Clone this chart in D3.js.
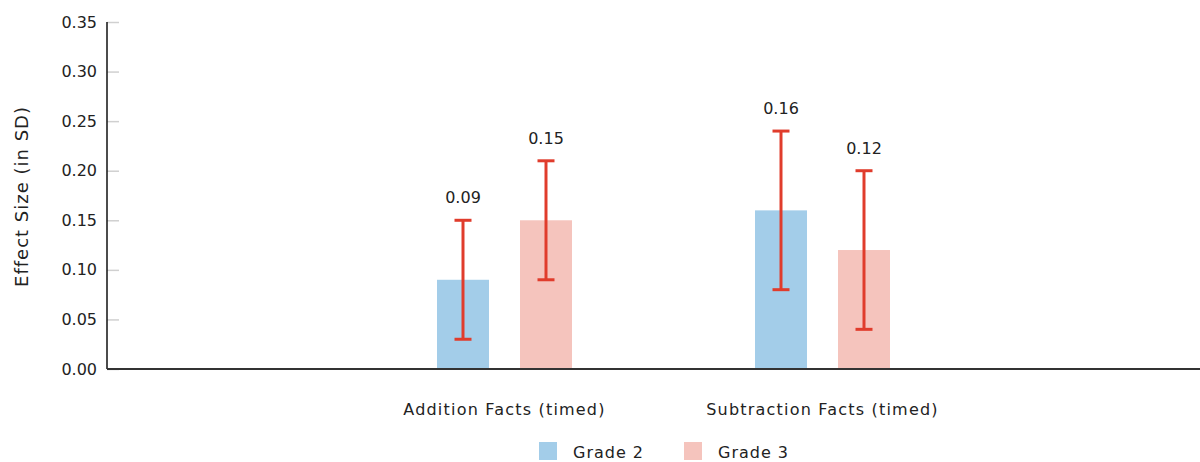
<!DOCTYPE html>
<html>
<head>
<meta charset="utf-8">
<script src="https://cdn.jsdelivr.net/npm/d3@7"></script>
<style>
  body { margin: 0; background: #fff; }
  svg { display: block; font-family: 'DejaVu Sans', sans-serif; }
</style>
</head>
<body>
<svg id="chart" width="1200" height="462"></svg>
<script>
const categories = ["Addition Facts (timed)", "Subtraction Facts (timed)"];
const series = ["Grade 2", "Grade 3"];
const grade2Values = [0.09, 0.16];
const grade3Values = [0.15, 0.12];
const grade2Low = [0.03, 0.08];
const grade2High = [0.15, 0.24];
const grade3Low = [0.09, 0.04];
const grade3High = [0.21, 0.20];
const yTicks = [0, 0.05, 0.10, 0.15, 0.20, 0.25, 0.30, 0.35];
const seriesColors = ["#a3cde9", "#f5c4bd"];

const data = categories.map((c, i) => ({
  category: c,
  values: [
    { series: series[0], value: grade2Values[i], low: grade2Low[i], high: grade2High[i] },
    { series: series[1], value: grade3Values[i], low: grade3Low[i], high: grade3High[i] }
  ]
}));

const svg = d3.select("#chart");
const mLeft = 107, mRight = 1200, mTop = 22, mBottom = 369;

const y = d3.scaleLinear().domain([0, 0.35]).range([mBottom, mTop]);
const x0 = d3.scaleBand().domain(categories).range([345.5, 981.5]).padding(0);
const x1 = d3.scaleBand().domain(series).range([-83, 83]).paddingInner(31 / 83).paddingOuter(31 / 166);
const color = d3.scaleOrdinal().domain(series).range(seriesColors);

// Y axis
const yAxis = d3.axisRight(y).tickValues(yTicks).tickSize(12).tickFormat(d3.format(".2f"));
const yg = svg.append("g").attr("transform", `translate(${mLeft},0)`).call(yAxis);
yg.select(".domain").remove();
yg.selectAll(".tick line").attr("stroke", "#d0d0d0").attr("stroke-width", 1.5);
yg.selectAll(".tick text").attr("x", -10).attr("text-anchor", "end")
  .attr("fill", "#222").style("font-size", "16px").style("font-family", "'DejaVu Sans', sans-serif");
svg.append("line").attr("x1", mLeft).attr("x2", mLeft).attr("y1", mTop).attr("y2", mBottom)
  .attr("stroke", "#111").attr("stroke-width", 1.5);

svg.append("text")
  .attr("transform", `translate(28,${(mTop + mBottom) / 2 + 1}) rotate(-90)`)
  .attr("text-anchor", "middle").attr("fill", "#222").style("font-size", "18px")
  .style("letter-spacing", "1px")
  .text("Effect Size (in SD)");

// Bars
const groups = svg.selectAll("g.group").data(data).join("g")
  .attr("class", "group")
  .attr("transform", d => `translate(${x0(d.category) + x0.bandwidth() / 2},0)`);

groups.selectAll("rect").data(d => d.values).join("rect")
  .attr("x", d => x1(d.series))
  .attr("width", x1.bandwidth())
  .attr("y", d => y(d.value))
  .attr("height", d => y(0) - y(d.value))
  .attr("fill", d => color(d.series));

// Baseline
svg.append("line").attr("x1", mLeft).attr("x2", mRight).attr("y1", y(0)).attr("y2", y(0))
  .attr("stroke", "#333").attr("stroke-width", 2);

// Error bars
const cap = 8.5;
const eb = groups.selectAll("g.err").data(d => d.values).join("g").attr("class", "err")
  .attr("transform", d => `translate(${x1(d.series) + x1.bandwidth() / 2},0)`);
eb.append("line").attr("x1", 0).attr("x2", 0).attr("y1", d => y(d.low)).attr("y2", d => y(d.high))
  .attr("stroke", "#e03c2c").attr("stroke-width", 3);
eb.append("line").attr("x1", -cap).attr("x2", cap).attr("y1", d => y(d.high)).attr("y2", d => y(d.high))
  .attr("stroke", "#e03c2c").attr("stroke-width", 3);
eb.append("line").attr("x1", -cap).attr("x2", cap).attr("y1", d => y(d.low)).attr("y2", d => y(d.low))
  .attr("stroke", "#e03c2c").attr("stroke-width", 3);
eb.append("text").attr("x", 0).attr("y", d => y(d.high) - 17)
  .attr("text-anchor", "middle").attr("fill", "#222").style("font-size", "16px")
  .text(d => d3.format(".2f")(d.value));

// Category labels
svg.selectAll("text.cat").data(categories).join("text").attr("class", "cat")
  .attr("x", d => x0(d) + x0.bandwidth() / 2).attr("y", 415)
  .attr("text-anchor", "middle").attr("fill", "#222").style("font-size", "16px")
  .style("letter-spacing", "1.2px")
  .text(d => d);

// Legend
const legendX = [539, 684];
const lg = svg.selectAll("g.legend").data(series).join("g").attr("class", "legend")
  .attr("transform", (d, i) => `translate(${legendX[i]},442)`);
lg.append("rect").attr("width", 18).attr("height", 18).attr("fill", d => color(d));
lg.append("text").attr("x", 34).attr("y", 16).attr("fill", "#222").style("font-size", "16px")
  .style("letter-spacing", "1px").text(d => d);
</script>
</body>
</html>
